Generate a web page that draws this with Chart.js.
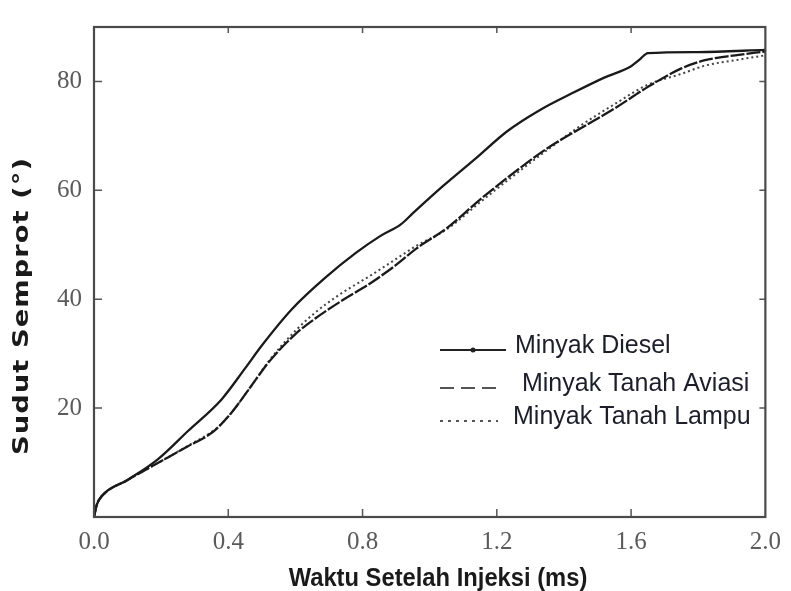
<!DOCTYPE html>
<html>
<head>
<meta charset="utf-8">
<script src="https://cdn.jsdelivr.net/npm/chart.js@4.4.1/dist/chart.umd.min.js"></script>
<style>
  html, body { margin: 0; padding: 0; background: #fff; }
  #wrap { width: 791px; height: 591px; }
</style>
</head>
<body>
<div id="wrap"><canvas id="chart" width="791" height="591"></canvas></div>
<script>
// values
const seriesNames = ["Minyak Diesel", " Minyak Tanah Aviasi", "Minyak Tanah Lampu"];

const timeDiesel = [0, 0.008, 0.022, 0.1, 0.19, 0.28, 0.38, 0.45, 0.5, 0.59, 0.69, 0.78, 0.85, 0.915, 0.95, 1.04, 1.14, 1.23, 1.33, 1.43, 1.52, 1.6, 1.625, 1.65, 1.8, 2.0];
const sudutDiesel = [0, 2.2, 3.8, 6.8, 10.6, 15.8, 21.6, 27.3, 31.5, 38.2, 44, 48.5, 51.5, 53.8, 55.8, 60.8, 66, 70.8, 74.8, 78, 80.7, 82.8, 84, 85.2, 85.4, 85.8];

const timeTanah = [0, 0.008, 0.022, 0.1, 0.19, 0.28, 0.34, 0.365, 0.41, 0.47, 0.52, 0.6, 0.66, 0.74, 0.82, 0.9, 0.96, 1.05, 1.15, 1.25, 1.35, 1.45, 1.55, 1.65, 1.75, 1.82, 1.91, 2.0];
const sudutAviasi = [0, 2.2, 3.7, 6.8, 9.9, 13, 15, 16.2, 19.2, 24.2, 28.4, 33.6, 36.5, 39.8, 42.8, 46.3, 49.3, 53, 58.3, 63.2, 67.7, 71.4, 75, 79, 82.4, 83.9, 84.8, 85.5];
const sudutLampu = [0, 2.2, 3.7, 6.8, 9.9, 13.1, 15.2, 16.3, 19.2, 24.2, 28.6, 34.2, 37.6, 41.2, 44.2, 47.4, 49.8, 52.8, 57.8, 62.7, 67.4, 71.9, 75.8, 79.4, 81.4, 82.9, 83.9, 84.8];

const xTicks = [0, 0.4, 0.8, 1.2, 1.6, 2.0];
const yTicks = [20, 40, 60, 80];

const xTitle = "Waktu Setelah Injeksi (ms)";
const yTitle = "Sudut Semprot (°)";

function pairs(xs, ys) {
  return xs.map((x, i) => ({ x: x, y: ys[i] }));
}

// frame, inward ticks, axis titles and the legend box
const decorations = {
  id: "decorations",
  afterDraw(chart) {
    const ctx = chart.ctx;
    const a = chart.chartArea;
    const xs = chart.scales.x;
    const ys = chart.scales.y;
    ctx.save();

    ctx.strokeStyle = "#555";
    ctx.lineWidth = 1.5;
    ctx.beginPath();
    xTicks.slice(1, -1).forEach(v => {
      const px = xs.getPixelForValue(v);
      ctx.moveTo(px, a.bottom); ctx.lineTo(px, a.bottom - 8);
      ctx.moveTo(px, a.top); ctx.lineTo(px, a.top + 6);
    });
    yTicks.forEach(v => {
      const py = ys.getPixelForValue(v);
      ctx.moveTo(a.left, py); ctx.lineTo(a.left + 8, py);
      ctx.moveTo(a.right, py); ctx.lineTo(a.right - 6, py);
    });
    ctx.stroke();

    ctx.strokeStyle = "#4a4a4a";
    ctx.lineWidth = 2.2;
    ctx.strokeRect(a.left, a.top, a.right - a.left, a.bottom - a.top);

    // axis titles
    ctx.fillStyle = "#1a1a1a";
    ctx.textAlign = "center";
    ctx.textBaseline = "middle";
    ctx.save();
    ctx.translate(438, 579);
    ctx.scale(0.95, 1);
    ctx.font = "bold 25px 'Liberation Sans', Arial, sans-serif";
    ctx.fillText(xTitle, 0, 0);
    ctx.restore();

    ctx.save();
    ctx.translate(23, 306);
    ctx.rotate(-Math.PI / 2);
    ctx.scale(1.05, 0.8);
    ctx.font = "bold 26px 'DejaVu Sans', sans-serif";
    ctx.letterSpacing = "1px";
    ctx.fillText(yTitle, 0, 0);
    ctx.restore();

    // legend
    const rows = [350, 388, 421];
    const textX = [515, 515, 513];
    chart.data.datasets.forEach((ds, i) => {
      const y = rows[i];
      ctx.strokeStyle = i === 0 ? "#222" : "#555";
      ctx.lineWidth = 2;
      ctx.setLineDash(ds.legendDash || []);
      ctx.beginPath();
      ctx.moveTo(440, y);
      ctx.lineTo(i === 0 ? 506 : 498, y);
      ctx.stroke();
      ctx.setLineDash([]);
      if (i === 0) {
        ctx.fillStyle = "#222";
        ctx.beginPath();
        ctx.arc(473, y, 2.5, 0, Math.PI * 2);
        ctx.fill();
      }
      ctx.fillStyle = "#1e1e2a";
      ctx.font = "25px 'Liberation Sans', Arial, sans-serif";
      ctx.textAlign = "left";
      ctx.fillText(ds.label, textX[i], y - 4);
    });

    ctx.restore();
  }
};

new Chart(document.getElementById("chart"), {
  type: "line",
  data: {
    datasets: [
      {
        label: seriesNames[0],
        data: pairs(timeDiesel, sudutDiesel),
        borderColor: "#1a1a1a",
        borderWidth: 2.3,
        legendDash: [],
      },
      {
        label: seriesNames[1],
        data: pairs(timeTanah, sudutAviasi),
        borderColor: "#1a1a1a",
        borderWidth: 2.3,
        borderDash: [14, 2],
        legendDash: [14, 7],
      },
      {
        label: seriesNames[2],
        data: pairs(timeTanah, sudutLampu),
        borderColor: "#444",
        borderWidth: 2,
        borderDash: [2, 3],
        legendDash: [3, 5],
      },
    ],
  },
  options: {
    responsive: false,
    animation: false,
    layout: { padding: { left: 0, top: 13, right: 18, bottom: 0 } },
    elements: {
      point: { radius: 0 },
      line: { cubicInterpolationMode: "monotone", fill: false },
    },
    plugins: {
      legend: { display: false },
      title: { display: false },
      tooltip: { enabled: false },
    },
    scales: {
      x: {
        type: "linear",
        min: 0,
        max: 2,
        grid: { display: false, drawTicks: false },
        border: { display: false },
        afterBuildTicks: s => { s.ticks = xTicks.map(v => ({ value: v })); },
        afterFit: s => { s.height = 74; },
        ticks: {
          padding: 10,
          color: "#5a5a5a",
          font: { family: "'Liberation Serif', 'Times New Roman', serif", size: 25 },
          maxRotation: 0,
          callback: v => v.toFixed(1),
        },
      },
      y: {
        type: "linear",
        min: 0,
        max: 90,
        grid: { display: false, drawTicks: false },
        border: { display: false },
        afterBuildTicks: s => { s.ticks = yTicks.map(v => ({ value: v })); },
        afterFit: s => { s.width = 94; },
        ticks: {
          padding: 12,
          color: "#5a5a5a",
          font: { family: "'Liberation Serif', 'Times New Roman', serif", size: 25 },
          callback: v => String(v),
        },
      },
    },
  },
  plugins: [decorations],
});
</script>
</body>
</html>
